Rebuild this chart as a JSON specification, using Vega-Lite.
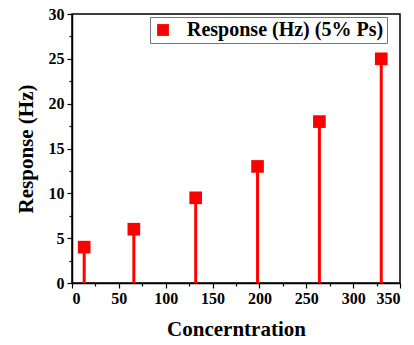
{
  "$schema": "https://vega.github.io/schema/vega-lite/v6.json",
  "width": 328,
  "height": 269,
  "autosize": {"type": "none"},
  "padding": {"left": 72, "top": 14, "right": 14, "bottom": 62},
  "background": "white",
  "config": {
    "view": {"stroke": "black", "strokeWidth": 1.5},
    "font": "Liberation Serif"
  },
  "data": {
    "values": [
      {"conc": 13, "resp": 4, "series": "Response (Hz) (5% Ps)"},
      {"conc": 66, "resp": 6, "series": "Response (Hz) (5% Ps)"},
      {"conc": 132, "resp": 9.5, "series": "Response (Hz) (5% Ps)"},
      {"conc": 198, "resp": 13, "series": "Response (Hz) (5% Ps)"},
      {"conc": 264, "resp": 18, "series": "Response (Hz) (5% Ps)"},
      {"conc": 330, "resp": 25, "series": "Response (Hz) (5% Ps)"}
    ]
  },
  "encoding": {
    "x": {
      "field": "conc", "type": "quantitative",
      "scale": {"domain": [0, 350], "nice": false},
      "axis": {
        "title": "Concerntration",
        "values": [0,25,50,75,100,125,150,175,200,225,250,275,300,325,350],
        "labelExpr": "datum.value % 50 === 0 ? datum.label : ''",
        "tickSize": {"condition": {"test": "datum.value % 50 !== 0", "value": 3}, "value": 5},
        "grid": false, "domainColor": "black", "domainWidth": 1.5,
        "tickColor": "black", "tickWidth": 1.2,
        "labelFont": "Liberation Serif", "labelFontSize": 16, "labelFontWeight": "bold", "labelColor": "black",
        "labelPadding": 2,
        "titleFont": "Liberation Serif", "titleFontSize": 21, "titleFontWeight": "bold", "titleColor": "black",
        "titlePadding": 12
      }
    },
    "y": {
      "field": "resp", "type": "quantitative",
      "scale": {"domain": [0, 30], "nice": false},
      "axis": {
        "title": "Response (Hz)",
        "values": [0,2.5,5,7.5,10,12.5,15,17.5,20,22.5,25,27.5,30],
        "labelExpr": "datum.value % 5 === 0 ? datum.label : ''",
        "tickSize": {"condition": {"test": "datum.value % 5 !== 0", "value": 3}, "value": 5},
        "grid": false, "domainColor": "black", "domainWidth": 1.5,
        "tickColor": "black", "tickWidth": 1.2,
        "labelFont": "Liberation Serif", "labelFontSize": 16, "labelFontWeight": "bold", "labelColor": "black",
        "labelPadding": 3,
        "titleFont": "Liberation Serif", "titleFontSize": 21, "titleFontWeight": "bold", "titleColor": "black",
        "titlePadding": 12
      }
    }
  },
  "layer": [
    {
      "mark": {"type": "rule", "color": "#ff0000", "strokeWidth": 3},
      "encoding": {"y2": {"datum": 0}}
    },
    {
      "mark": {"type": "point", "shape": "square", "filled": true, "size": 160, "opacity": 1},
      "encoding": {
        "color": {
          "field": "series", "type": "nominal",
          "scale": {"range": ["#ff0000"]},
          "legend": {
            "title": null,
            "orient": "none",
            "legendX": 78,
            "legendY": 3,
            "strokeColor": "#777777",
            "fillColor": "white",
            "padding": 3,
            "symbolType": "square",
            "symbolSize": 140,
            "symbolStrokeWidth": 0,
            "labelFont": "Liberation Serif",
            "labelFontSize": 20,
            "labelFontWeight": "bold",
            "labelColor": "black",
            "labelOffset": 14,
            "labelLimit": 400
          }
        }
      }
    }
  ]
}
